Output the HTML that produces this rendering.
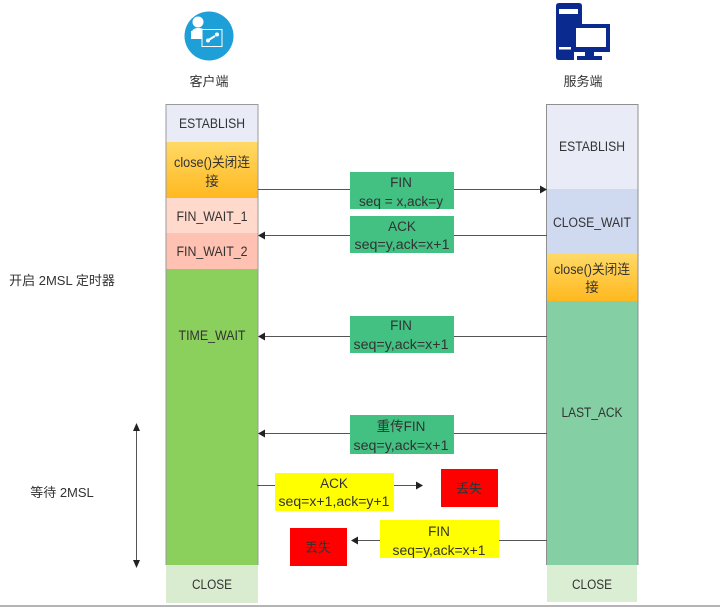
<!DOCTYPE html>
<html><head><meta charset="utf-8">
<style>
html,body{margin:0;padding:0;background:#fff;}
svg{display:block;filter:blur(0.3px);}
text{font-family:"Liberation Sans","Noto Sans CJK SC",sans-serif;font-size:13.5px;fill:#333;text-anchor:middle;}
</style></head><body>
<svg width="720" height="607" viewBox="0 0 720 607" xmlns="http://www.w3.org/2000/svg">
<defs>
<linearGradient id="g" x1="0" y1="0" x2="0" y2="1"><stop offset="0" stop-color="#ffd966"/><stop offset="1" stop-color="#ffb81f"/></linearGradient>
</defs>
<rect x="0" y="0" width="720" height="607" fill="#fff"/>
<rect x="0" y="605" width="720" height="2" fill="#b4b4b4"/>

<!-- client icon -->
<circle cx="209" cy="36" r="24.500" fill="#1f9fd8"/>
<circle cx="198" cy="22" r="5.500" fill="#fff"/>
<path d="M191 36 q0 -8 7 -8 q7 0 8 5 v3 h-3 v3 h-12z" fill="#fff"/>
<rect x="202" y="29.500" width="20" height="17" fill="#1f9fd8" stroke="#fff" stroke-width="1"/>
<rect x="191" y="31" width="10" height="5" fill="#fff"/>
<path d="M207 41 l8 -5" stroke="#fff" stroke-width="2"/>
<circle cx="217" cy="34.500" r="2" fill="#fff"/><circle cx="208" cy="40.500" r="2" fill="#fff"/>
<text x="209" y="86" style="font-size:13px">客户端</text>

<!-- server icon -->
<path d="M556 6 q0 -3 3 -3 h20 q3 0 3 3 v18 h-10 v28 h2 v8 h-15 q-3 0 -3 -3z" fill="#0a2a8f"/>
<rect x="559" y="9" width="19" height="5" fill="#fff"/>
<rect x="559" y="47" width="12" height="2.500" fill="#fff"/>
<rect x="572" y="24" width="38" height="28" fill="#0a2a8f"/>
<rect x="576" y="28" width="30" height="19" fill="#fff"/>
<rect x="585" y="52" width="9" height="5" fill="#0a2a8f"/>
<rect x="577" y="56" width="25" height="4" fill="#0a2a8f"/>
<text x="583" y="86" style="font-size:13px">服务端</text>

<!-- left column -->
<rect x="166" y="104" width="92" height="38" fill="#e9ecf6"/>
<rect x="166" y="142" width="92" height="56" fill="url(#g)"/>
<rect x="166" y="198" width="92" height="35" fill="#ffd9cc"/>
<rect x="166" y="233" width="92" height="36" fill="#ffc1b1"/>
<rect x="166" y="269" width="92" height="296" fill="#8bd05c"/>
<rect x="166" y="565" width="92" height="38" fill="#d9eccf"/>
<path d="M166 565 V104.500 H258 V565" fill="none" stroke="#9a9a9a" stroke-width="1"/>
<text x="212" y="128" textLength="66" lengthAdjust="spacingAndGlyphs">ESTABLISH</text>
<text x="212" y="167" textLength="76" lengthAdjust="spacingAndGlyphs">close()关闭连</text>
<text x="212" y="186">接</text>
<text x="212" y="221" textLength="71" lengthAdjust="spacingAndGlyphs">FIN_WAIT_1</text>
<text x="212" y="256" textLength="71" lengthAdjust="spacingAndGlyphs">FIN_WAIT_2</text>
<text x="212" y="340" textLength="67" lengthAdjust="spacingAndGlyphs">TIME_WAIT</text>
<text x="212" y="589" textLength="40" lengthAdjust="spacingAndGlyphs">CLOSE</text>

<!-- right column -->
<rect x="547" y="104" width="91" height="85" fill="#e9ecf7"/>
<rect x="547" y="189" width="91" height="65" fill="#cfdaf0"/>
<rect x="547" y="254" width="91" height="47" fill="url(#g)"/>
<rect x="547" y="301" width="91" height="264" fill="#84cfa3"/>
<rect x="547" y="565" width="90" height="37" fill="#d9eed3"/>
<path d="M546.500 565 V104.500 H638 V565" fill="none" stroke="#8f8f8f" stroke-width="1"/>
<text x="592" y="151" textLength="66" lengthAdjust="spacingAndGlyphs">ESTABLISH</text>
<text x="592" y="227" textLength="78" lengthAdjust="spacingAndGlyphs">CLOSE_WAIT</text>
<text x="592" y="274" textLength="76" lengthAdjust="spacingAndGlyphs">close()关闭连</text>
<text x="592" y="292">接</text>
<text x="592" y="417" textLength="61" lengthAdjust="spacingAndGlyphs">LAST_ACK</text>
<text x="592" y="589" textLength="40" lengthAdjust="spacingAndGlyphs">CLOSE</text>

<!-- connectors -->
<g stroke="#555" stroke-width="1" fill="none">
<path d="M258 189.500 H541"/>
<path d="M264 235.500 H547"/>
<path d="M264 336.500 H547"/>
<path d="M264 433.500 H547"/>
<path d="M257 485.500 H417"/>
<path d="M358 540.500 H547"/>
<path d="M136.500 428 V563"/>
</g>
<g fill="#222">
<path d="M547 189.500 l-7 -4 v8z"/>
<path d="M258 235.500 l7 -4 v8z"/>
<path d="M258 336.500 l7 -4 v8z"/>
<path d="M258 433.500 l7 -4 v8z"/>
<path d="M423 485.500 l-7 -4 v8z"/>
<path d="M351 540.500 l7 -4 v8z"/>
<path d="M136.500 423 l-3.500 8 h7z"/>
<path d="M136.500 568 l-3.500 -8 h7z"/>
</g>

<!-- message boxes -->
<rect x="350" y="172" width="104" height="37" fill="#42c183"/>
<text x="401" y="187">FIN</text><text x="401" y="206" textLength="84" lengthAdjust="spacingAndGlyphs">seq = x,ack=y</text>
<rect x="350" y="216" width="104" height="37" fill="#42c183"/>
<text x="402" y="231">ACK</text><text x="402" y="249" textLength="95" lengthAdjust="spacingAndGlyphs">seq=y,ack=x+1</text>
<rect x="350" y="316" width="104" height="37" fill="#42c183"/>
<text x="401" y="330">FIN</text><text x="401" y="349" textLength="95" lengthAdjust="spacingAndGlyphs">seq=y,ack=x+1</text>
<rect x="350" y="415" width="104" height="39" fill="#42c183"/>
<text x="401" y="431">重传FIN</text><text x="401" y="450" textLength="95" lengthAdjust="spacingAndGlyphs">seq=y,ack=x+1</text>
<rect x="275" y="473" width="119" height="38" fill="#ffff00"/>
<text x="334" y="488">ACK</text><text x="334" y="506" textLength="111" lengthAdjust="spacingAndGlyphs">seq=x+1,ack=y+1</text>
<rect x="380" y="520" width="119" height="38" fill="#ffff00"/>
<text x="439" y="536">FIN</text><text x="439" y="555" textLength="93" lengthAdjust="spacingAndGlyphs">seq=y,ack=x+1</text>
<rect x="441" y="469" width="57" height="38" fill="#ff0000"/>
<text x="469" y="493" style="font-size:13px">丢失</text>
<rect x="290" y="528" width="57" height="38" fill="#ff0000"/>
<text x="318" y="552" style="font-size:13px">丢失</text>

<!-- side labels -->
<text x="62" y="285" style="font-size:13px">开启 2MSL 定时器</text>
<text x="62" y="497" style="font-size:13px">等待 2MSL</text>
</svg>
</body></html>
